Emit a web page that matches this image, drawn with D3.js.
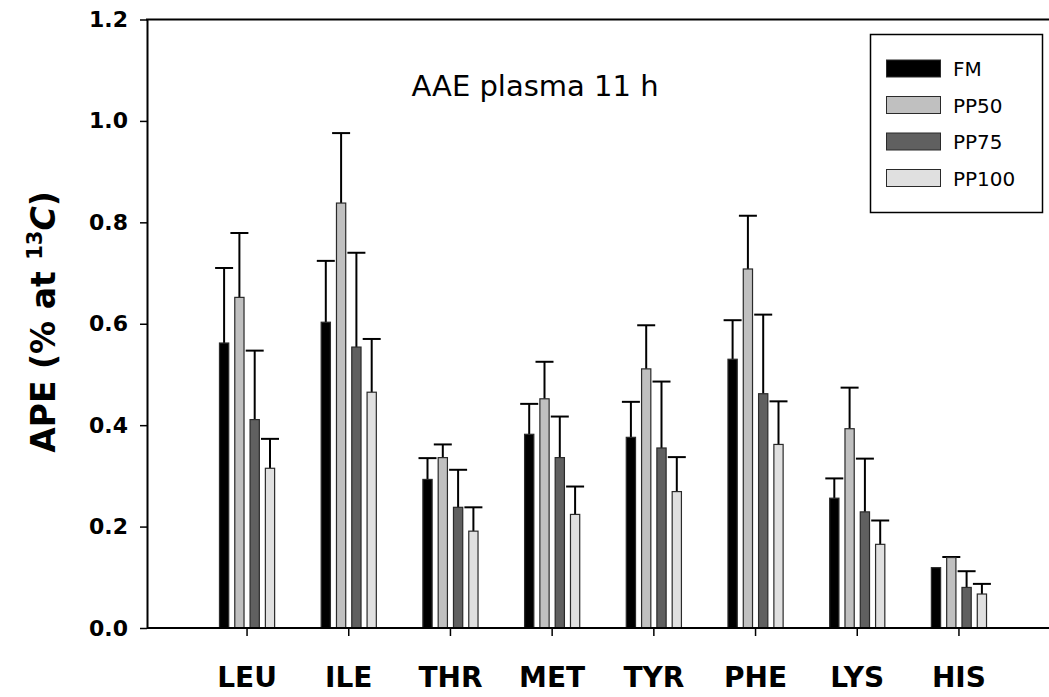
<!DOCTYPE html>
<html><head><meta charset="utf-8">
<script src="https://cdn.jsdelivr.net/npm/d3@7/dist/d3.min.js"></script>
<style>
body{margin:0;background:#fff;}
svg{display:block;}
</style></head>
<body>
<svg id="chart" width="1049" height="697"></svg>
<script>
const categories = ["LEU","ILE","THR","MET","TYR","PHE","LYS","HIS"];
const seriesNames = ["FM","PP50","PP75","PP100"];
const seriesColors = ["#000000","#c0c0c0","#606060","#e0e0e0"];
// mean values
const FM    = [0.562,0.603,0.293,0.382,0.376,0.530,0.256,0.119];
const PP50  = [0.652,0.838,0.336,0.452,0.511,0.708,0.393,0.139];
const PP75  = [0.411,0.554,0.238,0.336,0.355,0.462,0.229,0.080];
const PP100 = [0.315,0.465,0.191,0.224,0.269,0.362,0.165,0.067];
// top of error bars (mean + SD)
const FM_err    = [0.710,0.724,0.335,0.442,0.446,0.607,0.295,null];
const PP50_err  = [0.779,0.976,0.362,0.525,0.597,0.813,0.474,0.140];
const PP75_err  = [0.547,0.740,0.312,0.417,0.486,0.618,0.334,0.112];
const PP100_err = [0.373,0.570,0.238,0.279,0.337,0.447,0.212,0.087];
const yTicks = [0,0.2,0.4,0.6,0.8,1.0,1.2];
const title = "AAE plasma 11 h";

const values = [FM,PP50,PP75,PP100];
const errs = [FM_err,PP50_err,PP75_err,PP100_err];

const svg = d3.select("#chart");
const mLeft = 147, mBottom = 628, mTop = 19.5, mRight = 1049;

const x0 = d3.scaleBand().domain(categories).range([196.2,1009.8]).paddingInner(0).paddingOuter(0);
const x1 = d3.scaleBand().domain(seriesNames).range([-30.6,30.6]).paddingInner(0.33).paddingOuter(0.165);
const y = d3.scaleLinear().domain([0,1.2]).range([mBottom, mTop]);

const data = [];
categories.forEach((c,i)=>{
  seriesNames.forEach((s,j)=>{
    data.push({cat:c, ser:s, v:values[j][i], e:errs[j][i], color:seriesColors[j]});
  });
});

// error bars (behind bars)
const eg = svg.append("g");
data.filter(d=>d.e!==null).forEach(d=>{
  const cx = x0(d.cat) + x0.bandwidth()/2 + x1(d.ser) + x1.bandwidth()/2;
  eg.append("line").attr("x1",cx).attr("x2",cx).attr("y1",y(d.v)).attr("y2",y(d.e))
    .attr("stroke","#000").attr("stroke-width",2);
  eg.append("line").attr("x1",cx-9).attr("x2",cx+9).attr("y1",y(d.e)).attr("y2",y(d.e))
    .attr("stroke","#000").attr("stroke-width",2);
});

// bars
svg.append("g").selectAll("rect").data(data).join("rect")
  .attr("x", d=> x0(d.cat) + x0.bandwidth()/2 + x1(d.ser) + 0.5)
  .attr("y", d=> y(d.v))
  .attr("width", x1.bandwidth()-1)
  .attr("height", d=> mBottom - y(d.v))
  .attr("fill", d=>d.color)
  .attr("stroke","#2a2a2a").attr("stroke-width",1.2);

// y axis
const yAxis = d3.axisLeft(y).tickValues(yTicks).tickFormat(d3.format(".1f")).tickSize(7).tickSizeOuter(0).tickPadding(12);
const gy = svg.append("g").attr("transform",`translate(${mLeft},0)`).call(yAxis);
gy.select(".domain").attr("stroke","#000").attr("stroke-width",2);
gy.selectAll(".tick line").attr("stroke","#000").attr("stroke-width",1.5);
gy.selectAll(".tick text").attr("font-family","'DejaVu Sans', sans-serif").attr("font-weight","bold")
  .attr("font-size",22).attr("fill","#000");

// x axis
const xAxis = d3.axisBottom(x0).tickSize(8).tickSizeOuter(0).tickPadding(31);
const gx = svg.append("g").attr("transform",`translate(0,${mBottom})`).call(xAxis);
gx.select(".domain").remove();
gx.selectAll(".tick line").attr("stroke","#000").attr("stroke-width",1.5);
gx.selectAll(".tick text").attr("font-family","'DejaVu Sans', sans-serif").attr("font-weight","bold")
  .attr("font-size",28).attr("fill","#000");
svg.append("line").attr("x1",mLeft).attr("x2",mRight).attr("y1",mBottom).attr("y2",mBottom)
  .attr("stroke","#000").attr("stroke-width",2);
// top frame
svg.append("line").attr("x1",mLeft-1).attr("x2",mRight).attr("y1",mTop).attr("y2",mTop)
  .attr("stroke","#000").attr("stroke-width",2);

// y title
const yt = svg.append("text").attr("transform","translate(55,322) rotate(-90)")
  .attr("text-anchor","middle").attr("font-family","'DejaVu Sans', sans-serif")
  .attr("font-weight","bold").attr("font-size",33).attr("fill","#000");
yt.append("tspan").text("APE (% at ");
yt.append("tspan").attr("font-size",21).attr("dy",-13).text("13");
yt.append("tspan").attr("dy",13).attr("font-style","italic").text("C");
yt.append("tspan").text(")");

// chart title
svg.append("text").attr("x",535).attr("y",96).attr("text-anchor","middle")
  .attr("font-family","'DejaVu Sans', sans-serif").attr("font-size",29).attr("fill","#000").text(title);

// legend
const lg = svg.append("g");
lg.append("rect").attr("x",870.5).attr("y",34.5).attr("width",172).attr("height",178)
  .attr("fill","#fff").attr("stroke","#000").attr("stroke-width",1.5);
seriesNames.forEach((s,j)=>{
  const yy = 60 + j*36.5;
  lg.append("rect").attr("x",886.5).attr("y",yy).attr("width",54).attr("height",17)
    .attr("fill",seriesColors[j]).attr("stroke","#2a2a2a").attr("stroke-width",1);
  lg.append("text").attr("x",953).attr("y",yy+16).attr("font-family","'DejaVu Sans', sans-serif")
    .attr("font-size",20).attr("fill","#000").text(s);
});
</script>
</body></html>
